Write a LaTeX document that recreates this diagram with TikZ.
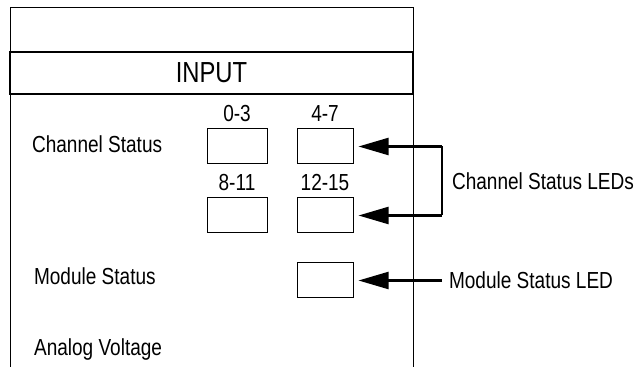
\documentclass[tikz,border=0pt]{standalone}
\usepackage{fontspec}
\setmainfont{Liberation Sans}[FakeStretch=0.82]
\usepackage{tikz}
\usetikzlibrary{calc,positioning,arrows.meta}
\tikzset{
    ledbox/.style={draw, line width=0.5pt, minimum height=17.5pt, inner sep=0pt},
    pointer/.style={line width=1.1pt, -{Triangle[length=15pt,width=8.5pt]}, shorten >=2.5pt},
    lbl/.style={font=\fontsize{11.6}{14}\selectfont}
}
\begin{document}
\begin{tikzpicture}[x=0.5pt,y=-0.5pt,lbl]
        \useasboundingbox (0,0) rectangle (636,367);
        \draw[line width=0.5pt] (10,367) -- (10,8) -- (413,8) -- (413,367);
        \node[draw, line width=0.8pt, minimum width=201.5pt, minimum height=21pt,
            font=\fontsize{14.5}{17}\selectfont] (band) at (211.5,73) {INPUT};
        \node[anchor=base west] (chlbl) at (25,153) {Channel Status};
        \node[anchor=base west] (modlbl) at (27,285) {Module Status};
        \node[anchor=base west] (anlbl) at (27,356) {Analog Voltage};
        \node[ledbox, minimum width=30pt] (led03) at (237,146.5) {};
        \node[ledbox, minimum width=28pt] (led47) at (325,146.5) {};
        \node[ledbox, minimum width=30pt] (led811) at (237,215.5) {};
        \node[ledbox, minimum width=28pt] (led1215) at (325,215.5) {};
        \node[ledbox, minimum width=28pt] (ledmod) at (325,280.5) {};
        \node[above=0pt of led03] {0-3};
        \node[above=0pt of led47] {4-7};
        \node[above=0pt of led811] {8-11};
        \node[above=0pt of led1215] {12-15};
        \coordinate (brk) at (442,0);
        \draw[line width=1.1pt] (brk |- led47) -- (brk |- led1215);
        \draw[pointer] (brk |- led47) -- (led47);
        \draw[pointer] (brk |- led1215) -- (led1215);
        \draw[pointer] (brk |- ledmod) -- (ledmod);
        \node[anchor=west] (chleds) at ($(brk |- led47)!0.5!(brk |- led1215) + (3,0)$) {Channel Status LEDs};
        \node[anchor=west] (modled) at (brk |- ledmod) {Module Status LED};
    \end{tikzpicture}
\end{document}
